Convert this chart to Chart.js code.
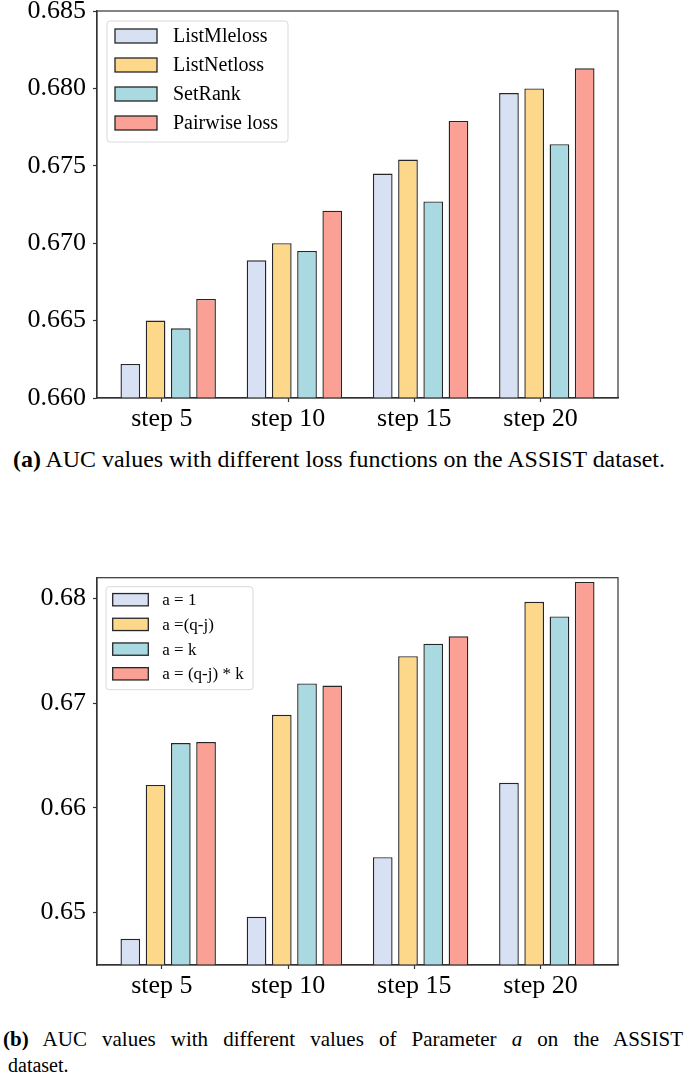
<!DOCTYPE html>
<html>
<head>
<meta charset="utf-8">
<script src="https://cdn.jsdelivr.net/npm/chart.js@4.4.1/dist/chart.umd.min.js"></script>
<style>
  body { margin: 0; background: #fff; width: 685px; height: 1077px; position: relative; overflow: hidden;
         font-family: "Liberation Serif", "Times New Roman", serif; }
  .box { position: absolute; left: 0; }
  .cap { position: absolute; white-space: nowrap; color: #000; line-height: 1; transform-origin: left top; }
</style>
</head>
<body>
<div class="box" style="top:0"><canvas id="chartA" width="685" height="445"></canvas></div>
<div class="box" style="top:560px"><canvas id="chartB" width="685" height="445"></canvas></div>

<div class="cap" id="capA" style="left:13px;top:447px;font-size:24px"><b>(a)</b> AUC values with different loss functions on the ASSIST dataset.</div>
<div class="cap" id="capB1" style="left:3px;top:1029px;width:680px;font-size:21px;white-space:normal;text-align:justify;text-align-last:justify"><b>(b)</b> AUC values with different values of Parameter <i>a</i> on the ASSIST</div>
<div class="cap" id="capB2" style="left:8px;top:1055px;font-size:20px">dataset.</div>

<script>
const steps = ["step 5", "step 10", "step 15", "step 20"];

// (a) loss functions
const lossNames = ["ListMleloss", "ListNetloss", "SetRank", "Pairwise loss"];
const listMle = [0.6622, 0.6689, 0.6745, 0.6797];
const listNet = [0.6650, 0.6700, 0.6754, 0.6800];
const setRank = [0.6645, 0.6695, 0.6727, 0.6764];
const pairwise = [0.6664, 0.6721, 0.6779, 0.6813];
const yTicksA = [0.660, 0.665, 0.670, 0.675, 0.680, 0.685];

// (b) parameter a
const paramNames = ["a = 1", "a =(q-j)", "a = k", "a = (q-j) * k"];
const aOne = [0.6475, 0.6496, 0.6553, 0.6624];
const aQJ = [0.6622, 0.6689, 0.6745, 0.6797];
const aK = [0.6662, 0.6719, 0.6757, 0.6783];
const aQJK = [0.6663, 0.6717, 0.6764, 0.6816];
const yTicksB = [0.65, 0.66, 0.67, 0.68];

const barColors = ["#d8e0f4", "#fdd78a", "#a9dae2", "#fba094"];
const serif = "'Liberation Serif', 'Times New Roman', serif";

const framePlugin = {
  id: "frame",
  afterDatasetsDraw(chart) {
    const { ctx, chartArea: a } = chart;
    ctx.save();
    ctx.strokeStyle = "#333";
    ctx.lineWidth = 1.2;
    ctx.strokeRect(a.left, a.top, a.right - a.left, a.bottom - a.top);
    ctx.restore();
  }
};

const boxLegend = {
  id: "boxLegend",
  afterDraw(chart, args, o) {
    const { ctx, chartArea: a } = chart;
    const x0 = a.left + o.dx, y0 = a.top + o.dy;
    ctx.save();
    ctx.beginPath();
    ctx.roundRect(x0, y0, o.w, o.h, 3);
    ctx.fillStyle = "rgba(255,255,255,0.85)";
    ctx.fill();
    ctx.strokeStyle = "#d9d9d9";
    ctx.lineWidth = 1;
    ctx.stroke();
    ctx.font = o.fontSize + "px " + serif;
    ctx.textBaseline = "middle";
    chart.data.datasets.forEach((ds, k) => {
      const cy = y0 + o.row0 + k * o.rowGap;
      ctx.fillStyle = ds.backgroundColor;
      ctx.fillRect(x0 + o.patchX, cy - o.patchH / 2, o.patchW, o.patchH);
      ctx.strokeStyle = ds.borderColor;
      ctx.lineWidth = 1.3;
      ctx.strokeRect(x0 + o.patchX, cy - o.patchH / 2, o.patchW, o.patchH);
      ctx.fillStyle = "#000";
      ctx.fillText(ds.label, x0 + o.textX, cy + 1);
    });
    ctx.restore();
  }
};

// keep Chart.js from reserving room for overhanging tick labels
function noPad(s) {
  s.paddingTop = 0;
  s.paddingBottom = 0;
  s.paddingLeft = 0;
  s.paddingRight = 0;
}

function buildChart(id, names, series, yTicks, cfg) {
  const datasets = series.map((vals, k) => ({
    label: names[k],
    data: vals.map((v, i) => ({ x: i, y: v })),
    backgroundColor: barColors[k],
    borderColor: "#262626",
    borderWidth: 1.4,
    borderSkipped: false,
    barPercentage: 0.78,
    categoryPercentage: 0.8
  }));

  return new Chart(document.getElementById(id), {
    type: "bar",
    data: { datasets },
    options: {
      responsive: false,
      animation: false,
      layout: { padding: { top: cfg.top, right: 67, left: 0, bottom: 0 } },
      plugins: {
        legend: { display: false },
        tooltip: { enabled: false },
        boxLegend: cfg.legend
      },
      scales: {
        x: {
          type: "linear",
          bounds: "data",
          offset: false,
          min: -0.564,
          max: 3.564,
          afterBuildTicks: (s) => { s.ticks = steps.map((_, i) => ({ value: i - 0.05 })); },
          afterFit: (s) => { s.height = cfg.xHeight; noPad(s); },
          ticks: {
            callback: (v, i) => steps[i],
            font: { family: serif, size: 26 },
            color: "#000",
            padding: 2,
            maxRotation: 0,
            autoSkip: false
          },
          grid: { drawOnChartArea: false, drawTicks: true, tickLength: 4, tickColor: "#333", tickWidth: 1.2, offset: false },
          border: { display: true, color: "#333", width: 1.2 }
        },
        y: {
          bounds: "data",
          min: cfg.yMin,
          max: cfg.yMax,
          afterBuildTicks: (s) => { s.ticks = yTicks.map((v) => ({ value: v })); },
          afterFit: (s) => { s.width = 97; noPad(s); },
          ticks: {
            callback: (v) => v.toFixed(cfg.dec),
            font: { family: serif, size: 26 },
            color: "#000",
            padding: 7,
            autoSkip: false
          },
          grid: { drawOnChartArea: false, drawTicks: true, tickLength: 4, tickColor: "#333", tickWidth: 1.2 },
          border: { display: true, color: "#333", width: 1.2 }
        }
      }
    },
    plugins: [framePlugin, boxLegend]
  });
}

buildChart("chartA", lossNames, [listMle, listNet, setRank, pairwise], yTicksA, {
  top: 11, xHeight: 47, yMin: 0.660, yMax: 0.685, dec: 3,
  legend: { dx: 10, dy: 10, w: 181, h: 121, patchX: 8, patchW: 42, patchH: 14, row0: 15, rowGap: 29, textX: 66, fontSize: 20 }
});

buildChart("chartB", paramNames, [aOne, aQJ, aK, aQJK], yTicksB, {
  top: 17.7, xHeight: 40, yMin: 0.645, yMax: 0.682, dec: 2,
  legend: { dx: 9, dy: 9, w: 147, h: 103, patchX: 6.7, patchW: 35.6, patchH: 12.3, row0: 13, rowGap: 24.7, textX: 56.3, fontSize: 17 }
});

// caption (a) is set tight across the page width
const capA = document.getElementById("capA");
capA.style.transform = "scaleX(" + (652 / capA.getBoundingClientRect().width) + ")";
</script>
</body>
</html>
